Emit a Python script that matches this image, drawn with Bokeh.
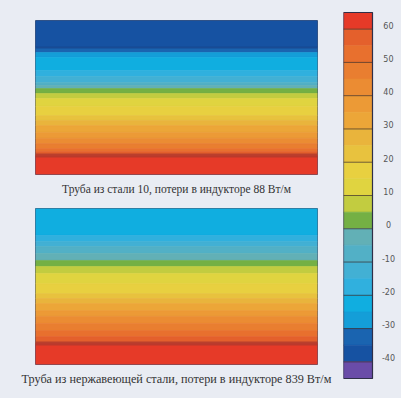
import math
from bokeh.plotting import figure
from bokeh.layouts import row, column
from bokeh.models import Range1d, Title
from bokeh.embed import file_html
from bokeh.resources import INLINE
from bokeh.core.properties import value

# ---------------- data ----------------
# colour scale (temperature, degC)
scale_levels = [60, 50, 40, 30, 20, 10, 0, -10, -20, -30, -40]
scale_labels = ["60", "50", "40", "30", "20", "10", "0", "-10", "-20", "-30", "-40"]
bin_step = 5
bin_low = [60, 55, 50, 45, 40, 35, 30, 25, 20, 15, 10, 5, 0,
           -5, -10, -15, -20, -25, -30, -35, -40, -45]
bin_colors = ["#e63a28", "#e4602c", "#e8702e", "#e97e30", "#eb8c33", "#ec9a36",
              "#eca638", "#e9b43c", "#e8c23e", "#e8d040", "#e0d440", "#c2cc40",
              "#74b044", "#62b0b6", "#52b0c6", "#42b0d4", "#30b0de", "#10aee0",
              "#149ed8", "#1a64b0", "#1652a2", "#6a4ca8"]
scale_min, scale_max = -45, 65

# panel 1: steel 10 (depth from top of section, %, and band temperature)
p1_edges = [0, 17.5, 20.8, 24.0, 32.5, 36.4, 40.3, 42.2, 44.2, 47.4, 50.6,
            55.8, 61.7, 64.9, 68.2, 72.7, 76.6, 79.9, 83.1, 85.1, 87.7, 100]
p1_temps = [-38, -33, -28, -23, -18, -13, -8, -3, 2, 7, 12, 17, 22, 27, 32,
            37, 42, 47, 52, 57, 62]
p1_iso_depth = [17.5, 87.7]
p1_iso_level = [-30, 60]
caption1 = "Труба из стали 10, потери в индукторе 88 Вт/м"

# panel 2: stainless steel
p2_edges = [0, 17.3, 21.2, 24.4, 28.8, 33.3, 37.2, 41.7, 48.1, 54.5, 57.7,
            60.9, 65.4, 69.2, 73.7, 78.2, 82.1, 86.5, 100]
p2_temps = [-23, -18, -13, -8, -3, 2, 7, 12, 17, 22, 27, 32, 37, 42, 47, 52, 57, 62]
p2_iso_depth = [86.5]
p2_iso_level = [60]
caption2 = "Труба из нержавеющей стали, потери в индукторе 839 Вт/м"

# ---------------- style ----------------
BG = "#e9ecf3"
iso_color = {-30: "#17468f", 60: "#b3392d"}
iso_width = {-30: 2, 60: 4}
pipe_len = 1.0


def temp_color(t):
    lo = bin_step * math.floor(t / bin_step)
    return bin_colors[bin_low.index(lo)]


def panel(edges, temps, iso_depth, iso_level, caption, height, b_top, b_bottom,
          standoff, font_size):
    p = figure(width=338, height=height, x_range=Range1d(0, pipe_len),
               y_range=Range1d(100, 0), output_backend="svg", toolbar_location=None,
               x_axis_location=None, y_axis_location=None,
               min_border_left=35, min_border_right=21,
               min_border_top=b_top, min_border_bottom=b_bottom)
    p.grid.visible = False
    p.background_fill_color = BG
    p.border_fill_color = BG
    p.outline_line_color = "#4a5570"
    p.outline_line_width = 1
    cols = [temp_color(t) for t in temps]
    p.quad(left=0, right=pipe_len, top=edges[:-1], bottom=edges[1:],
           fill_color=cols, line_color=cols, line_width=0.6)
    p.segment(x0=0, x1=pipe_len, y0=iso_depth, y1=iso_depth,
              line_color=[iso_color[l] for l in iso_level],
              line_width=[iso_width[l] for l in iso_level], line_alpha=0.85)
    t = Title(text=caption, align="center", text_font="Liberation Serif",
              text_font_size=font_size, text_font_style="normal",
              text_color="#333333", standoff=standoff)
    p.add_layout(t, "below")
    return p


p1 = panel(p1_edges, p1_temps, p1_iso_depth, p1_iso_level, caption1, 204, 20, 30,
           13, "11.5px")
p2 = panel(p2_edges, p2_temps, p2_iso_depth, p2_iso_level, caption2, 194, 4, 34,
           10, "12.2px")

cb = figure(width=63, height=398, x_range=Range1d(0, 2),
            y_range=Range1d(scale_min - 0.6, scale_max + 0.6),
            output_backend="svg", toolbar_location=None,
            x_axis_location=None, y_axis_location=None,
            min_border_left=5, min_border_right=0, min_border_top=10, min_border_bottom=18)
cb.grid.visible = False
cb.background_fill_color = BG
cb.border_fill_color = BG
cb.outline_line_color = None
cb.quad(left=0, right=1, bottom=bin_low, top=[b + bin_step for b in bin_low],
        fill_color=bin_colors, line_color=bin_colors, line_width=0.6)
cb.segment(x0=0, x1=1, y0=scale_levels, y1=scale_levels,
           line_color="#3d2c2a", line_width=1, line_alpha=0.7)
cb.quad(left=0, right=1, bottom=scale_min, top=scale_max,
        fill_color=None, line_color="#2f2f48", line_width=1.2)
cb.text(x=1.55, y=scale_levels, text=scale_labels, text_align="center",
        text_baseline="middle", y_offset=-4, text_font=value("DejaVu Sans"),
        text_font_size="8px", text_color="#555555")

layout = row(column(p1, p2), cb)
layout.background = BG

open("out.html", "w").write(file_html(layout, INLINE))
